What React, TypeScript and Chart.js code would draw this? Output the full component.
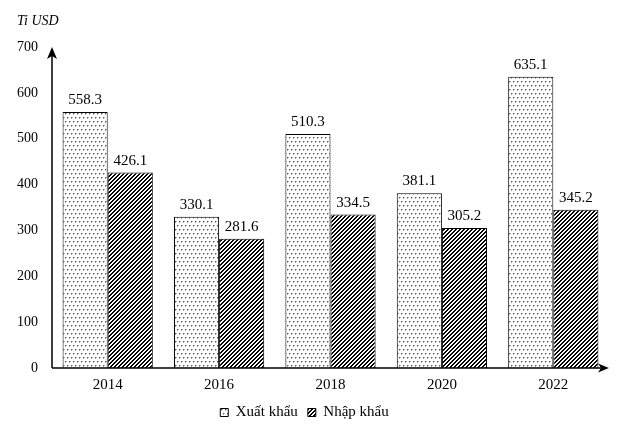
import { useEffect, useRef } from 'react';
import { Chart, registerables } from 'chart.js';

Chart.register(...registerables);

const categories = ['2014', '2016', '2018', '2020', '2022'];
const exportValues = [558.3, 330.1, 510.3, 381.1, 635.1];
const importValues = [426.1, 281.6, 334.5, 305.2, 345.2];
const seriesNames = ['Xuất khẩu', 'Nhập khẩu'];
const yUnit = 'Ti USD';
const yMin = 0;
const yMax = 700;
const yStep = 100;

const FONT = '"Liberation Serif", "Times New Roman", serif';

function makePattern(kind: 'dots' | 'hatch'): CanvasPattern | string {
  const c = document.createElement('canvas');
  c.width = 4;
  c.height = kind === 'dots' ? 8 : 4;
  const ctx = c.getContext('2d');
  if (!ctx) return '#ccc';
  const img = ctx.createImageData(c.width, c.height);
  for (let y = 0; y < c.height; y++) {
    for (let x = 0; x < c.width; x++) {
      let v = 255;
      if (kind === 'dots') {
        if ((x === 1 && y === 1) || (x === 3 && y === 5)) v = 85;
        else if ((x === 2 && y === 1) || (x === 0 && y === 5) || (x === 1 && y === 2) || (x === 3 && y === 6)) v = 175;
      } else {
        const m = (x + y) % 4;
        if (m === 0 || m === 1) v = 0;
      }
      const i = (y * c.width + x) * 4;
      img.data[i] = v;
      img.data[i + 1] = v;
      img.data[i + 2] = v;
      img.data[i + 3] = 255;
    }
  }
  ctx.putImageData(img, 0, 0);
  const p = ctx.createPattern(c, 'repeat');
  return p || '#ccc';
}

const decorPlugin = {
  id: 'decor',
  afterDatasetsDraw(chart: any) {
    const ctx = chart.ctx as CanvasRenderingContext2D;
    const { left, right, top, bottom } = chart.chartArea;
    ctx.save();
    // value labels
    ctx.font = `15px ${FONT}`;
    ctx.fillStyle = '#000';
    ctx.textAlign = 'center';
    ctx.textBaseline = 'alphabetic';
    chart.data.datasets.forEach((ds: any, i: number) => {
      const meta = chart.getDatasetMeta(i);
      meta.data.forEach((el: any, j: number) => {
        ctx.fillText(Number(ds.data[j]).toFixed(1), el.x, el.y - 8);
      });
    });
    // axes
    const y0 = chart.scales.y.getPixelForValue(0);
    ctx.strokeStyle = '#000';
    ctx.lineWidth = 1.5;
    ctx.beginPath();
    ctx.moveTo(left, bottom);
    ctx.lineTo(left, top + 6);
    ctx.moveTo(left, y0);
    ctx.lineTo(right - 6, y0);
    ctx.stroke();
    // arrowheads
    ctx.fillStyle = '#000';
    ctx.beginPath();
    ctx.moveTo(left, top);
    ctx.lineTo(left + 5, top + 12);
    ctx.lineTo(left, top + 9);
    ctx.lineTo(left - 5, top + 12);
    ctx.closePath();
    ctx.fill();
    ctx.beginPath();
    ctx.moveTo(right, y0);
    ctx.lineTo(right - 11, y0 - 4.5);
    ctx.lineTo(right - 8, y0);
    ctx.lineTo(right - 11, y0 + 4.5);
    ctx.closePath();
    ctx.fill();
    // unit
    ctx.font = `italic 14px ${FONT}`;
    ctx.textAlign = 'left';
    ctx.textBaseline = 'middle';
    ctx.fillText(yUnit, 17, 21);
    ctx.restore();
  },
};

export default function App() {
  const ref = useRef<HTMLCanvasElement | null>(null);
  useEffect(() => {
    if (!ref.current) return;
    const dots = makePattern('dots');
    const hatch = makePattern('hatch');
    const chart = new Chart(ref.current, {
      type: 'bar',
      data: {
        labels: categories,
        datasets: [
          {
            label: seriesNames[0],
            data: exportValues,
            backgroundColor: dots as any,
            borderColor: '#000',
            borderWidth: 1,
            categoryPercentage: 0.81,
            barPercentage: 1,
          },
          {
            label: seriesNames[1],
            data: importValues,
            backgroundColor: hatch as any,
            borderColor: '#000',
            borderWidth: 1,
            categoryPercentage: 0.81,
            barPercentage: 1,
          },
        ],
      },
      options: {
        animation: false,
        responsive: true,
        maintainAspectRatio: false,
        events: [],
        layout: { padding: { top: 47, right: 15, left: 0, bottom: 0 } },
        plugins: {
          tooltip: { enabled: false },
          legend: {
            position: 'bottom',
            labels: {
              boxWidth: 8,
              boxHeight: 8,
              padding: 10,
              color: '#000',
              font: { family: FONT, size: 15 },
            },
          },
        },
        scales: {
          x: {
            grid: { display: false, drawTicks: false },
            border: { display: false },
            ticks: { color: '#000', padding: 8, font: { family: FONT, size: 15 } },
            afterFit: (s: any) => {
              s.height = 27;
            },
          },
          y: {
            min: yMin,
            max: yMax,
            grid: { display: false, drawTicks: false },
            border: { display: false },
            ticks: { stepSize: yStep, color: '#000', padding: 14, font: { family: FONT, size: 14 } },
            afterFit: (s: any) => {
              s.width = 52;
            },
          },
        },
      },
      plugins: [decorPlugin],
    });
    return () => chart.destroy();
  }, []);
  return (
    <div style={{ position: 'absolute', left: 0, top: 0, width: 624, height: 430, background: '#fff' }}>
      <canvas ref={ref} />
    </div>
  );
}
